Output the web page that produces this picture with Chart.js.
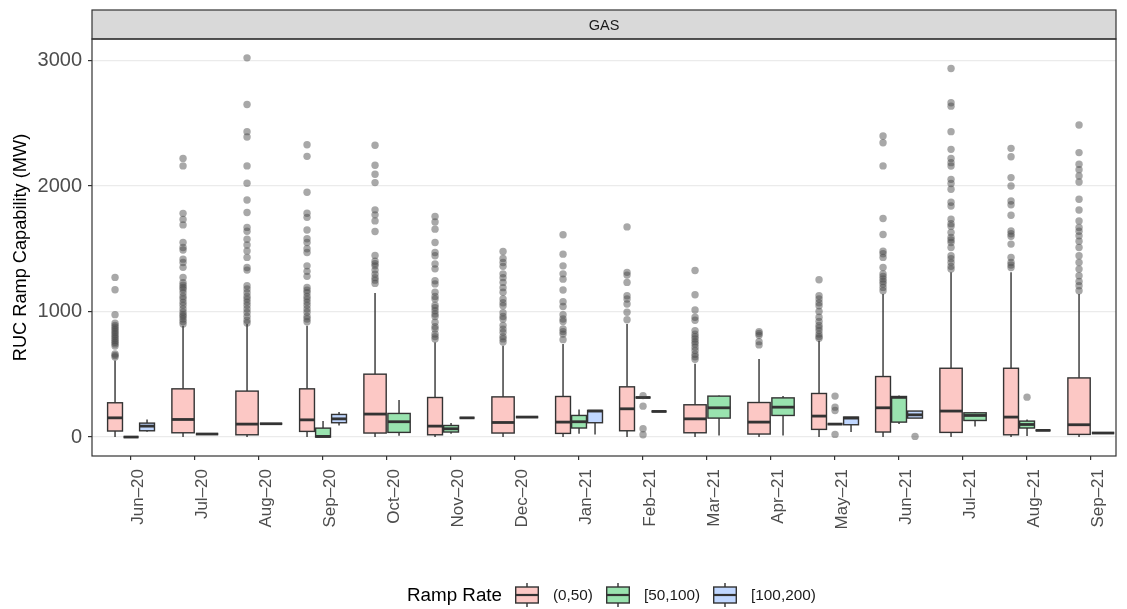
<!DOCTYPE html>
<html>
<head>
<meta charset="utf-8">
<script src="https://cdn.jsdelivr.net/npm/chart.js@4.4.1/dist/chart.umd.min.js"></script>
<style>
  html, body { margin: 0; padding: 0; background: #ffffff; }
  #wrap { position: relative; width: 1127px; height: 609px; font-family: "Liberation Sans", Arial, sans-serif; }
  #chart { position: absolute; left: 0; top: 0; }
  #legend { position: absolute; left: 407px; top: 583px; height: 24px; display: flex; align-items: center; color: #000; white-space: nowrap; }
  #legend .title { font-size: 18.8px; margin-right: 13px; }
  #legend .lab { font-size: 15.3px; color: #1a1a1a; margin-left: 14px; margin-right: 13px; }
  #legend svg { display: block; }
</style>
</head>
<body>
<div id="wrap">
  <canvas id="chart" width="1127" height="609"></canvas>
  <div id="legend"></div>
</div>
<script>
// Months on the x axis
const months = ['Jun–20','Jul–20','Aug–20','Sep–20','Oct–20','Nov–20','Dec–20','Jan–21',
                'Feb–21','Mar–21','Apr–21','May–21','Jun–21','Jul–21','Aug–21','Sep–21'];
const yTicks = [0, 1000, 2000, 3000];
const stripLabel = 'GAS';
const legendTitle = 'Ramp Rate';

// Ramp rate (0,50): whisker ends, quartiles and median per month (MW)
const lowA  = [0, 0, 0, 0, 0, 0, 0, 0, 0, 0, 0, 0, 0, 0, 0, 0];
const q1A   = [48, 34, 18, 45, 32, 18, 32, 29, 50, 34, 24, 61, 40, 37, 18, 21];
const medA  = [153, 140, 103, 137, 183, 87, 116, 119, 225, 145, 119, 167, 233, 207, 159, 98];
const q3A   = [273, 384, 366, 384, 501, 315, 320, 323, 400, 257, 275, 347, 482, 548, 548, 471];
const highA = [609, 887, 900, 887, 1147, 755, 728, 742, 901, 583, 622, 768, 1139, 1312, 1312, 1139];
const outA = [
  [1272, 1173, 975, 906, 890, 875, 860, 845, 830, 815, 800, 785, 770, 755, 742, 725, 662, 650, 638],
  [2220, 2160, 1782, 1734, 1690, 1550, 1510, 1490, 1417, 1390, 1352, 1272, 1230, 1210, 1192, 1175, 1150, 1120, 1100, 1073, 1050, 1020, 994, 975, 960, 940, 920, 900],
  [3021, 2649, 2433, 2390, 2160, 2022, 1889, 1789, 1670, 1640, 1576, 1530, 1483, 1431, 1351, 1330, 1205, 1180, 1150, 1120, 1099, 1075, 1050, 1020, 993, 960, 930, 909],
  [2329, 2236, 1950, 1783, 1750, 1650, 1580, 1550, 1500, 1470, 1364, 1320, 1280, 1192, 1170, 1150, 1120, 1099, 1075, 1050, 1020, 994, 960, 940, 919],
  [2324, 2165, 2093, 2027, 1810, 1770, 1722, 1638, 1447, 1400, 1380, 1364, 1330, 1298, 1270, 1250, 1224],
  [1757, 1714, 1656, 1550, 1470, 1444, 1378, 1340, 1245, 1220, 1153, 1120, 1099, 1050, 1030, 1006, 980, 960, 914, 880, 861, 821, 800, 782],
  [1478, 1423, 1390, 1360, 1300, 1270, 1232, 1190, 1153, 1100, 1070, 1046, 990, 960, 940, 890, 860, 834, 800, 782, 757],
  [1611, 1457, 1364, 1300, 1258, 1171, 1078, 1040, 975, 940, 920, 861, 840, 820, 776],
  [1674, 1312, 1290, 1232, 1126, 1100, 1060, 994, 935],
  [1327, 1134, 1012, 954, 930, 848, 820, 800, 781, 760, 742, 716, 690, 660, 640, 620],
  [840, 825, 810, 760, 734],
  [1253, 1126, 1100, 1070, 1046, 1000, 954, 920, 890, 870, 848, 820, 800, 787],
  [2398, 2345, 2160, 1741, 1614, 1480, 1460, 1431, 1351, 1300, 1280, 1260, 1240, 1219, 1192, 1165],
  [2936, 2663, 2636, 2433, 2292, 2220, 2186, 2159, 2053, 2020, 1974, 1870, 1841, 1735, 1700, 1680, 1630, 1590, 1570, 1550, 1510, 1444, 1420, 1391, 1360, 1338],
  [2300, 2233, 2067, 2000, 1881, 1850, 1767, 1642, 1620, 1600, 1537, 1431, 1390, 1370, 1351],
  [2486, 2266, 2173, 2130, 2080, 2032, 1894, 1809, 1722, 1669, 1640, 1603, 1560, 1510, 1444, 1391, 1338, 1285, 1240, 1205, 1166]
];

// Ramp rate [50,100)
const lowB  = [0, null, null, 0, 10, 26, null, 26, 315, 13, 13, 103, 103, 85, 8, null];
const q1B   = [0, null, null, 0, 37, 40, null, 72, 315, 151, 172, 103, 119, 132, 72, null];
const medB  = [0, null, null, 5, 122, 66, null, 122, 315, 233, 238, 103, 316, 172, 100, null];
const q3B   = [0, null, null, 71, 188, 92, null, 172, 315, 326, 312, 103, 323, 193, 127, null];
const highB = [0, null, null, 127, 296, 111, null, 220, 315, 330, 326, 103, 330, 200, 140, null];
const outB = [[], [], [], [], [], [], [], [], [330, 246, 66, 18], [], [], [326, 238, 212, 21], [], [], [318], []];

// Ramp rate [100,200)
const lowC  = [42, 24, 106, 92, null, 153, 159, 20, 204, null, null, 40, 151, null, 53, 32];
const q1C   = [50, 24, 106, 114, null, 153, 159, 114, 204, null, null, 98, 151, null, 53, 32];
const medC  = [87, 24, 106, 145, null, 153, 159, 207, 204, null, null, 151, 177, null, 53, 32];
const q3C   = [111, 24, 106, 180, null, 153, 159, 212, 204, null, null, 159, 207, null, 53, 32];
const highC = [140, 24, 106, 199, null, 153, 159, 212, 204, null, null, 159, 207, null, 53, 32];
const outC = [[], [], [], [], [], [], [], [], [], [], [], [], [5], [], [], []];

const series = [
  { name: '(0,50)',    fill: 'rgba(248,118,109,0.4)', low: lowA, q1: q1A, med: medA, q3: q3A, high: highA, out: outA },
  { name: '[50,100)',  fill: 'rgba(0,186,56,0.4)',    low: lowB, q1: q1B, med: medB, q3: q3B, high: highB, out: outB },
  { name: '[100,200)', fill: 'rgba(97,156,255,0.4)',  low: lowC, q1: q1C, med: medC, q3: q3C, high: highC, out: outC }
];

// Dodge the boxes present in each month across 0.75 of the category width
const DODGE = 0.75;
const boxes = [];
months.forEach((m, i) => {
  const present = series.filter(s => s.q1[i] !== null);
  const slot = DODGE / present.length;
  present.forEach((s, k) => {
    boxes.push({ i, s, slot, x: i - DODGE / 2 + slot * (k + 0.5) });
  });
});

// Outlying observations as scatter points at each box's x position
const outlierPoints = [];
boxes.forEach(b => b.s.out[b.i].forEach(v => outlierPoints.push({ x: b.x, y: v })));

const boxPlugin = {
  id: 'boxes',
  beforeDatasetsDraw(chart) {
    const { ctx, scales: { x, y } } = chart;
    const unit = x.getPixelForValue(1) - x.getPixelForValue(0);
    ctx.save();
    ctx.strokeStyle = '#333333';
    boxes.forEach(b => {
      const s = b.s, i = b.i;
      const cx = x.getPixelForValue(b.x);
      const w = b.slot * 0.93 * unit;
      const yLo = y.getPixelForValue(s.low[i]);
      const yQ1 = y.getPixelForValue(s.q1[i]);
      const yMed = y.getPixelForValue(s.med[i]);
      const yQ3 = y.getPixelForValue(s.q3[i]);
      const yHi = y.getPixelForValue(s.high[i]);
      ctx.lineWidth = 1.4;
      ctx.beginPath();
      ctx.moveTo(cx, yQ1); ctx.lineTo(cx, yLo);
      ctx.moveTo(cx, yQ3); ctx.lineTo(cx, yHi);
      ctx.stroke();
      ctx.fillStyle = '#ffffff';
      ctx.fillRect(cx - w / 2, yQ3, w, yQ1 - yQ3);
      ctx.fillStyle = s.fill;
      ctx.fillRect(cx - w / 2, yQ3, w, yQ1 - yQ3);
      ctx.strokeRect(cx - w / 2, yQ3, w, yQ1 - yQ3);
      ctx.lineWidth = 2.8;
      ctx.beginPath();
      ctx.moveTo(cx - w / 2, yMed); ctx.lineTo(cx + w / 2, yMed);
      ctx.stroke();
    });
    ctx.restore();
  }
};

const framePlugin = {
  id: 'frame',
  afterDraw(chart) {
    const { ctx, chartArea: a } = chart;
    ctx.save();
    // facet strip
    ctx.fillStyle = '#d9d9d9';
    ctx.fillRect(a.left, 10, a.right - a.left, a.top - 10);
    ctx.strokeStyle = '#333333';
    ctx.lineWidth = 1.2;
    ctx.strokeRect(a.left, 10, a.right - a.left, a.top - 10);
    ctx.fillStyle = '#1a1a1a';
    ctx.font = '14.5px "Liberation Sans", Arial, sans-serif';
    ctx.textAlign = 'center';
    ctx.textBaseline = 'middle';
    ctx.fillText(stripLabel, (a.left + a.right) / 2, (10 + a.top) / 2 + 1);
    // panel border
    ctx.strokeRect(a.left, a.top, a.right - a.left, a.bottom - a.top);
    ctx.restore();
  }
};

const FONT = '"Liberation Sans", Arial, sans-serif';

new Chart(document.getElementById('chart'), {
  type: 'scatter',
  data: {
    datasets: [{
      data: outlierPoints,
      pointRadius: 3.7,
      pointHoverRadius: 3.7,
      borderWidth: 0,
      backgroundColor: 'rgba(70,70,70,0.47)'
    }]
  },
  options: {
    responsive: false,
    animation: false,
    events: [],
    layout: { padding: { left: 0, top: 39, right: 11, bottom: 0 } },
    plugins: { legend: { display: false }, tooltip: { enabled: false } },
    scales: {
      x: {
        type: 'linear',
        min: -0.61,
        max: months.length - 0.61,
        afterBuildTicks: s => { s.ticks = months.map((m, i) => ({ value: i })); },
        afterFit: s => { s.height = 153; },
        border: { display: false },
        grid: { drawOnChartArea: false, tickColor: '#333333', tickLength: 4, lineWidth: 1.2 },
        ticks: {
          autoSkip: false,
          minRotation: 90,
          maxRotation: 90,
          padding: 9,
          labelOffset: 7,
          color: '#4d4d4d',
          font: { family: FONT, size: 17 },
          callback: v => months[v]
        }
      },
      y: {
        min: -151,
        max: 3171,
        afterBuildTicks: s => { s.ticks = yTicks.map(v => ({ value: v })); },
        afterFit: s => { s.width = 92; },
        border: { display: false },
        grid: { color: '#ebebeb', lineWidth: 1.2, tickColor: '#333333', tickLength: 4 },
        ticks: { padding: 6, color: '#4d4d4d', font: { family: FONT, size: 20 }, callback: v => String(v) },
        title: {
          display: true,
          text: 'RUC Ramp Capability (MW)',
          color: '#000000',
          font: { family: FONT, size: 18.2 },
          padding: { top: 10, bottom: 0 }
        }
      }
    }
  },
  plugins: [boxPlugin, framePlugin]
});

// Legend with boxplot keys
const legend = document.getElementById('legend');
const t = document.createElement('span');
t.className = 'title';
t.textContent = legendTitle;
legend.appendChild(t);
series.forEach((s, k) => {
  const svgNS = 'http://www.w3.org/2000/svg';
  const svg = document.createElementNS(svgNS, 'svg');
  svg.setAttribute('width', '24');
  svg.setAttribute('height', '24');
  svg.innerHTML =
    '<line x1="12" y1="0" x2="12" y2="24" stroke="#333" stroke-width="1.4"/>' +
    '<rect x="0.7" y="4" width="22.6" height="16" fill="#fff"/>' +
    '<rect x="0.7" y="4" width="22.6" height="16" fill="' + s.fill + '" stroke="#333" stroke-width="1.4"/>' +
    '<line x1="0.7" y1="12" x2="23.3" y2="12" stroke="#333" stroke-width="2.2"/>';
  legend.appendChild(svg);
  const l = document.createElement('span');
  l.className = 'lab';
  l.textContent = s.name;
  if (k === series.length - 1) l.style.marginRight = '0';
  legend.appendChild(l);
});
</script>
</body>
</html>
